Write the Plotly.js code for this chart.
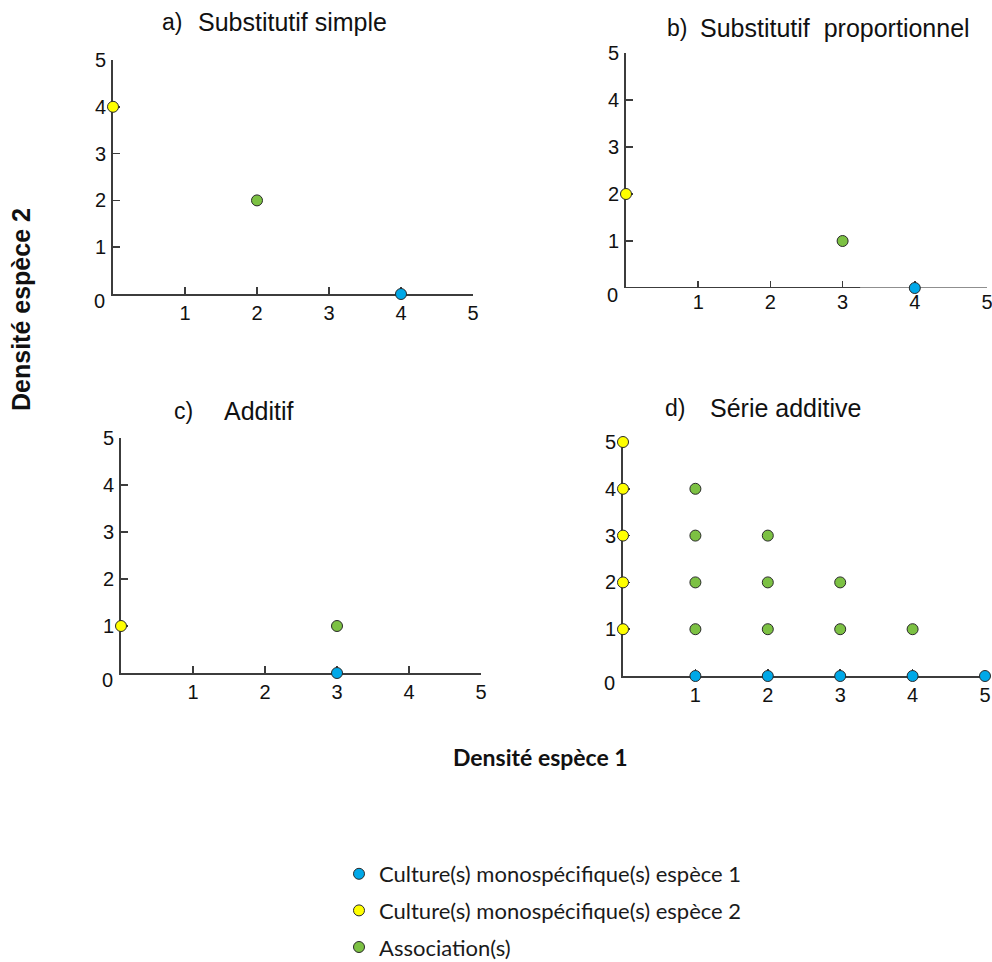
<!DOCTYPE html>
<html>
<head>
<meta charset="utf-8">
<script src="https://cdn.plot.ly/plotly-3.0.1.min.js"></script>
<style>
  html, body { margin: 0; padding: 0; background: #ffffff; width: 992px; height: 962px; overflow: hidden; }
  #chart { width: 992px; height: 962px; overflow: hidden; }
</style>
</head>
<body>
<div id="chart"></div>
<script>
// Densities of species 1 (x) and species 2 (y) for each experimental design.

// a) Substitutif simple
const aMono1X = [4];  const aMono1Y = [0];
const aMono2X = [0];  const aMono2Y = [4];
const aAssocX = [2];  const aAssocY = [2];

// b) Substitutif proportionnel
const bMono1X = [4];  const bMono1Y = [0];
const bMono2X = [0];  const bMono2Y = [2];
const bAssocX = [3];  const bAssocY = [1];

// c) Additif
const cMono1X = [3];  const cMono1Y = [0];
const cMono2X = [0];  const cMono2Y = [1];
const cAssocX = [3];  const cAssocY = [1];

// d) Série additive
const dMono1X = [1, 2, 3, 4, 5];  const dMono1Y = [0, 0, 0, 0, 0];
const dMono2X = [0, 0, 0, 0, 0];  const dMono2Y = [1, 2, 3, 4, 5];
const dAssocX = [1, 1, 2, 1, 2, 3, 1, 2, 3, 4];
const dAssocY = [4, 3, 3, 2, 2, 2, 1, 1, 1, 1];

const tickVals = [1, 2, 3, 4, 5];
const tickText = ['1', '2', '3', '4', '5'];

const panelLetters = ['a)', 'b)', 'c)', 'd)'];
const panelTitles = ['Substitutif simple', 'Substitutif\u00A0 proportionnel', 'Additif', 'Série additive'];

const seriesNames = [
  'Culture(s) monospécifique(s) espèce 1',
  'Culture(s) monospécifique(s) espèce 2',
  'Association(s)'
];
const seriesColors = ['#00A8E8', '#FFFF00', '#7CC143'];

const xAxisTitle = 'Densité espèce 1';
const yAxisTitle = 'Densité espèce 2';

// ---- page geometry (pixels) ----
const W = 992, H = 962;
const px = v => v / W;
const py = v => 1 - v / H;

const sans = 'Liberation Sans, Arial, sans-serif';
const humanist = 'Lato, Carlito, Calibri, sans-serif';

// plot area of each panel: [left, right, top(y=5), bottom(y=0)] in pixels
const boxes = [
  [113, 473, 60, 294],
  [626, 987, 53, 288],
  [121, 481, 438, 673],
  [623, 985, 442, 676]
];

const panelData = [
  [[aMono1X, aMono1Y], [aMono2X, aMono2Y], [aAssocX, aAssocY]],
  [[bMono1X, bMono1Y], [bMono2X, bMono2Y], [bAssocX, bAssocY]],
  [[cMono1X, cMono1Y], [cMono2X, cMono2Y], [cAssocX, cAssocY]],
  [[dMono1X, dMono1Y], [dMono2X, dMono2Y], [dAssocX, dAssocY]]
];

const traces = [];
const layout = {
  width: W, height: H,
  margin: {l: 0, r: 0, t: 0, b: 0, autoexpand: false},
  paper_bgcolor: '#ffffff',
  plot_bgcolor: 'rgba(0,0,0,0)',
  font: {family: sans, color: '#111111'},
  showlegend: true,
  legend: {
    x: px(339), xanchor: 'left',
    y: py(853), yanchor: 'top',
    font: {family: humanist, size: 22, color: '#1a1a1a'},
    tracegroupgap: 5,
    bgcolor: 'rgba(0,0,0,0)'
  },
  annotations: [],
  shapes: []
};

const axisColor = '#3c3c3c';
const tickFont = {family: sans, size: 20, color: '#111111'};

boxes.forEach((b, i) => {
  const n = i + 1;
  const xa = 'xaxis' + (i ? n : '');
  const ya = 'yaxis' + (i ? n : '');
  const xr = 'x' + (i ? n : '');
  const yr = 'y' + (i ? n : '');

  const common = {
    range: [0, 5],
    showgrid: false, zeroline: false,
    showline: true, linecolor: axisColor, linewidth: 2,
    ticks: 'inside', ticklen: 7, tickwidth: 1.5, tickcolor: axisColor,
    tickvals: tickVals, ticktext: tickText,
    tickfont: tickFont,
    ticklabeloverflow: 'allow',
    layer: 'below traces',
    fixedrange: true
  };
  layout[xa] = Object.assign({}, common, {
    domain: [px(b[0]), px(b[1])], anchor: yr, ticklabelstandoff: 0,
    // panel b draws its x axis line as two shaded segments below
    showline: i !== 1
  });
  layout[ya] = Object.assign({}, common, {
    domain: [py(b[3]), py(b[2])], anchor: xr, ticklabelstandoff: 1
  });

  // origin label, set slightly below the x axis
  layout.annotations.push({
    xref: xr, yref: yr, x: 0, y: 0, text: '0', showarrow: false,
    xanchor: 'right', yanchor: 'middle', xshift: -6, yshift: -7,
    font: tickFont
  });

  panelData[i].forEach((s, k) => {
    traces.push({
      type: 'scatter', mode: 'markers',
      x: s[0], y: s[1], xaxis: xr, yaxis: yr,
      name: seriesNames[k],
      legendgroup: 'g' + k,
      showlegend: i === 0,
      cliponaxis: false,
      marker: {size: 11, color: seriesColors[k], line: {color: '#2a2a2a', width: 1}},
      hoverinfo: 'x+y+name'
    });
  });
});

// x axis line of panel b: dark on the left, lighter grey on the right
layout.shapes.push({
  type: 'line', xref: 'x2', yref: 'y2', x0: 0, x1: 3.25, y0: 0, y1: 0,
  line: {color: axisColor, width: 2}, layer: 'below'
});
layout.shapes.push({
  type: 'line', xref: 'x2', yref: 'y2', x0: 3.25, x1: 5, y0: 0, y1: 0,
  line: {color: '#8f8f8f', width: 2}, layer: 'below'
});

// panel headings
const titlePos = [
  [160, 196, 22],
  [665, 698, 28],
  [172, 222, 411],
  [663, 708, 408]
];
titlePos.forEach((t, i) => {
  layout.annotations.push({
    xref: 'paper', yref: 'paper', x: px(t[0]), y: py(t[2]),
    xanchor: 'left', yanchor: 'middle', showarrow: false,
    text: panelLetters[i], font: {family: sans, size: 23, color: '#111111'}
  });
  layout.annotations.push({
    xref: 'paper', yref: 'paper', x: px(t[1]), y: py(t[2]),
    xanchor: 'left', yanchor: 'middle', showarrow: false,
    text: panelTitles[i], font: {family: sans, size: 25, color: '#111111'}
  });
});

// shared axis titles
layout.annotations.push({
  xref: 'paper', yref: 'paper', x: px(540), y: py(757),
  xanchor: 'center', yanchor: 'middle', showarrow: false,
  text: '<b>' + xAxisTitle + '</b>',
  font: {family: humanist, size: 23, color: '#111111'}
});
layout.annotations.push({
  xref: 'paper', yref: 'paper', x: px(21), y: py(310),
  xanchor: 'center', yanchor: 'middle', showarrow: false, textangle: -90,
  text: '<b>' + yAxisTitle + '</b>',
  font: {family: sans, size: 25, color: '#111111'}
});

Plotly.newPlot('chart', traces, layout, {displayModeBar: false, staticPlot: true});
</script>
</body>
</html>
